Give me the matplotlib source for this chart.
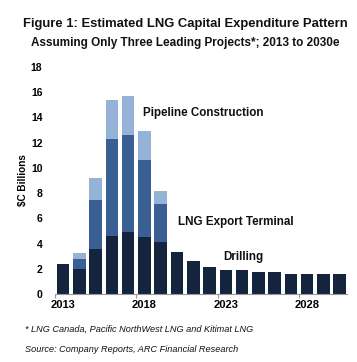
import matplotlib
matplotlib.use("Agg")
import matplotlib.pyplot as plt
import numpy as np

years = list(range(2013, 2031))
drilling = [2.43, 2.0, 3.59, 4.61, 4.93, 4.56, 4.17, 3.35, 2.64, 2.19, 1.90, 1.90, 1.77, 1.77, 1.63, 1.63, 1.63, 1.58]
terminal = [0, 0.82, 3.87, 7.68, 7.67, 6.06, 3.0, 0, 0, 0, 0, 0, 0, 0, 0, 0, 0, 0]
pipeline = [0, 0.48, 1.77, 3.08, 3.09, 2.27, 1.0, 0, 0, 0, 0, 0, 0, 0, 0, 0, 0, 0]
yticks = [0, 2, 4, 6, 8, 10, 12, 14, 16, 18]
xlabel_years = [2013, 2018, 2023, 2028]

c_drill = "#14243F"
c_term = "#3A5F92"
c_pipe = "#95B3D7"

plt.rcParams['font.family'] = ['Liberation Sans', 'DejaVu Sans']

fig = plt.figure(figsize=(3.57, 3.62), dpi=100)
ax = fig.add_axes([0.154, 0.187, 0.818, 0.629])

x = np.array(years)
d = np.array(drilling)
t = np.array(terminal)
p = np.array(pipeline)
w = 0.77
ax.bar(x, d, width=w, color=c_drill)
ax.bar(x, t, width=w, bottom=d, color=c_term)
ax.bar(x, p, width=w, bottom=d + t, color=c_pipe)

ax.set_xlim(2012.5, 2030.45)
ax.set_ylim(0, 18)
ax.set_yticks(yticks)
ax.set_yticklabels([str(v) for v in yticks], fontsize=7.5, fontweight='bold')
ax.tick_params(axis='y', length=0, pad=9)

ax.set_xticks([yy - 0.5 for yy in xlabel_years])
ax.set_xticklabels([])
ax.set_xticks(xlabel_years, minor=True)
ax.set_xticklabels([str(v) for v in xlabel_years], minor=True, fontsize=8, fontweight='bold')
ax.tick_params(axis='x', which='major', length=3, color='#999999', width=0.8)
ax.tick_params(axis='x', which='minor', length=0, pad=4)

for s in ['top', 'right', 'left']:
    ax.spines[s].set_visible(False)
ax.spines['bottom'].set_color('#999999')
ax.spines['bottom'].set_linewidth(0.8)

ax.set_ylabel('$C Billions', fontsize=7.2, fontweight='bold')
ax.yaxis.set_label_coords(28/357, 1 - 180/362, transform=fig.transFigure)

tx = dict(fontsize=8.4, fontweight='bold', color='#111111', va='center', ha='left', transform=fig.transFigure)
fig.text(143/357, 1 - 113/362, 'Pipeline Construction', **tx)
fig.text(178/357, 1 - 222/362, 'LNG Export Terminal', **tx)
fig.text(223/357, 1 - 257/362, 'Drilling', **tx)

fig.text(185/357, 1 - 24/362, 'Figure 1: Estimated LNG Capital Expenditure Pattern',
         fontsize=9.4, fontweight='bold', ha='center', va='center', color='#111111')
fig.text(185/357, 1 - 43/362, 'Assuming Only Three Leading Projects*; 2013 to 2030e',
         fontsize=8.5, fontweight='bold', ha='center', va='center', color='#111111')

fig.text(25/357, 1 - 329/362, '* LNG Canada, Pacific NorthWest LNG and Kitimat LNG',
         fontsize=6.6, style='italic', ha='left', va='center', color='#111111')
fig.text(25/357, 1 - 349/362, 'Source: Company Reports, ARC Financial Research',
         fontsize=6.6, style='italic', ha='left', va='center', color='#111111')

fig.savefig('out.png', dpi=100)
